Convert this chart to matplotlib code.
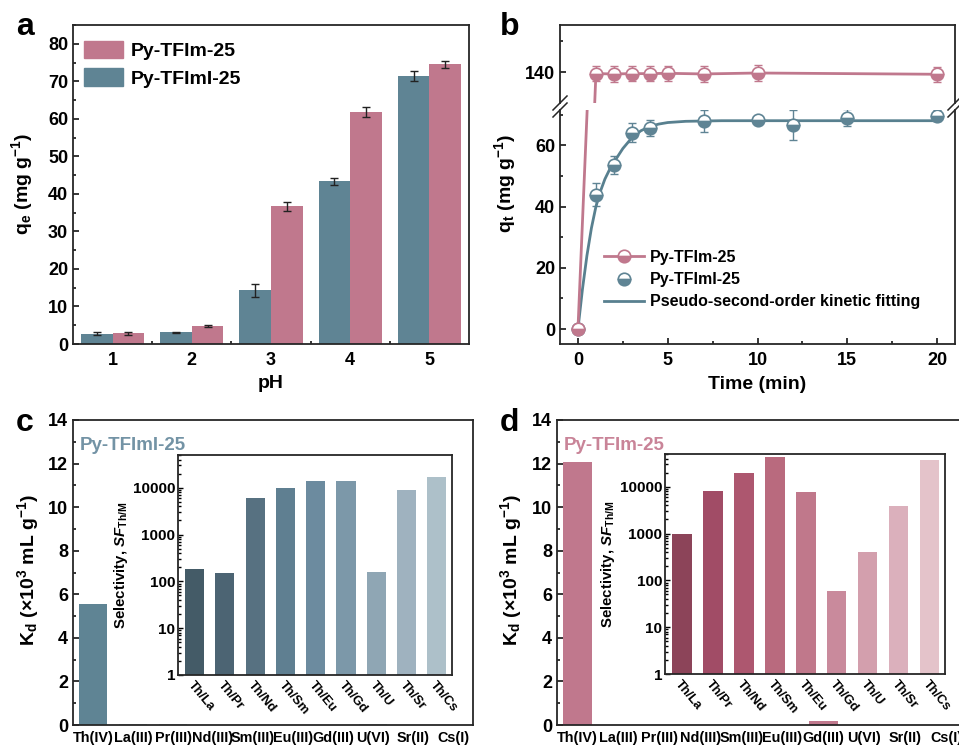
import numpy as np
import matplotlib
matplotlib.use('Agg')
import matplotlib.pyplot as plt
from matplotlib.lines import Line2D
from matplotlib.patches import Patch
from matplotlib.ticker import MultipleLocator, FixedLocator, LogLocator, NullFormatter

plt.rcParams['font.family'] = ['Liberation Sans', 'DejaVu Sans']
plt.rcParams['font.weight'] = 'bold'
plt.rcParams['axes.labelweight'] = 'bold'
plt.rcParams['mathtext.fontset'] = 'custom'
plt.rcParams['mathtext.rm'] = 'Liberation Sans:bold'
plt.rcParams['mathtext.it'] = 'Liberation Sans:italic:bold'
plt.rcParams['mathtext.bf'] = 'Liberation Sans:bold'
plt.rcParams['mathtext.default'] = 'rm'
plt.rcParams['axes.linewidth'] = 1.3
plt.rcParams['axes.edgecolor'] = '#262626'

# ---------------- data ----------------
ph = [1, 2, 3, 4, 5]
qe_tfim = [2.8, 4.8, 36.7, 61.8, 74.5]
qe_tfim_err = [0.3, 0.2, 1.2, 1.4, 1.0]
qe_tfimi = [2.7, 3.1, 14.3, 43.3, 71.4]
qe_tfimi_err = [0.4, 0.2, 1.8, 1.0, 1.3]

t_tfim = [0, 1, 2, 3, 4, 5, 7, 10, 20]
qt_tfim = [0, 139.6, 139.5, 139.6, 139.6, 139.7, 139.5, 139.8, 139.4]
qt_tfim_err = [0, 2.4, 2.4, 2.4, 2.4, 2.4, 2.4, 2.4, 2.4]

t_tfimi = [0, 1, 2, 3, 4, 7, 10, 12, 15, 20]
qt_tfimi = [0, 43.9, 53.6, 64.2, 65.7, 68.0, 68.4, 66.7, 69.1, 69.7]
qt_tfimi_err = [0, 3.8, 3.0, 3.0, 2.7, 3.5, 1.2, 4.8, 2.7, 1.8]

fit_t = [0, 0.25, 0.5, 0.75, 1, 1.25, 1.5, 1.75, 2, 2.5, 3, 3.5, 4, 4.5, 5, 6, 7, 8, 10, 15, 20]
fit_q = [0, 13, 24, 33, 40, 45, 49, 52, 54.5, 59, 62.5, 64.8, 66.2, 67, 67.5, 67.9, 68.0, 68.1, 68.1, 68.1, 68.1]

ions = ['Th(IV)', 'La(III)', 'Pr(III)', 'Nd(III)', 'Sm(III)', 'Eu(III)', 'Gd(III)', 'U(VI)', 'Sr(II)', 'Cs(I)']
kd_tfimi = [5.55, 0.03, 0.037, 0.0009, 0.0006, 0.0004, 0.0004, 0.037, 0.0006, 0.0003]
kd_tfim = [12.05, 0.012, 0.0015, 0.0006, 0.0003, 0.0016, 0.2, 0.03, 0.003, 0.0003]

pairs = ['Th/La', 'Th/Pr', 'Th/Nd', 'Th/Sm', 'Th/Eu', 'Th/Gd', 'Th/U', 'Th/Sr', 'Th/Cs']
sf_tfimi = [184, 153, 5970, 10000, 14000, 14000, 156, 8970, 17300]
sf_tfim = [1000, 7930, 19300, 43800, 7550, 60, 400, 3890, 37800]

# ---------------- style ----------------
TEAL = '#5F8494'
PINK = '#C0788D'
teal_grad = ['#445B67', '#4C6473', '#577181', '#5F7F91', '#6C8B9F', '#7C98A9', '#8FA6B4', '#9FB2BF', '#ADC0C9']
pink_grad = ['#8C4459', '#A14C66', '#AD576F', '#B96A7E', '#C0788B', '#C98A9C', '#D39FAD', '#DBB0BC', '#E4C3CA']

W, H = 959, 748
fig = plt.figure(figsize=(W / 100, H / 100), dpi=100)


def px(l, t, r, b):
    return [l / W, 1 - b / H, (r - l) / W, (b - t) / H]


def style_ax(ax, labelsize=12):
    ax.tick_params(which='both', direction='in', top=False, right=False, labelsize=labelsize, width=1.1)
    ax.tick_params(which='major', length=4)
    ax.tick_params(which='minor', length=2.5)


# ---------------- panel a ----------------
axa = fig.add_axes(px(73, 25, 469, 344))
x = np.array(ph)
axa.bar(x - 0.2, qe_tfimi, width=0.4, color=TEAL, yerr=qe_tfimi_err,
        error_kw=dict(ecolor='#222222', elinewidth=1, capsize=3, capthick=1))
axa.bar(x + 0.2, qe_tfim, width=0.4, color=PINK, yerr=qe_tfim_err,
        error_kw=dict(ecolor='#222222', elinewidth=1, capsize=3, capthick=1))
axa.set_xlim(0.5, 5.5)
axa.set_ylim(0, 85)
axa.set_xticks(ph)
axa.xaxis.set_minor_locator(FixedLocator([1.5, 2.5, 3.5, 4.5]))
axa.yaxis.set_major_locator(MultipleLocator(10))
axa.yaxis.set_minor_locator(MultipleLocator(5))
style_ax(axa, 13)
axa.tick_params(axis='x', which='major', length=0, pad=6)
axa.set_xlabel('pH', fontsize=14, labelpad=4)
fig.text(22 / W, 1 - 184 / H, r'q$_e$ (mg g$^{-1}$)', rotation=90, ha='center', va='center', fontsize=14, weight='bold')
axa.legend(handles=[Patch(color=PINK, label='Py-TFIm-25'), Patch(color=TEAL, label='Py-TFImI-25')],
           loc='upper left', bbox_to_anchor=(84 / W, 1 - 41 / H), bbox_transform=fig.transFigure,
           frameon=False, fontsize=14, handlelength=2.0, handleheight=1.0, handletextpad=0.4,
           labelspacing=0.4, borderpad=0, borderaxespad=0)

# ---------------- panel b ----------------
axbu = fig.add_axes(px(560, 25, 955, 103))
axbl = fig.add_axes(px(560, 110, 955, 344))
mk = dict(marker='o', markersize=9, fillstyle='bottom', markerfacecoloralt='white', markeredgewidth=1.2)
for ax in (axbu, axbl):
    ax.errorbar(t_tfimi, qt_tfimi, yerr=qt_tfimi_err, fmt='none', ecolor=TEAL, elinewidth=1, capsize=3, zorder=2)
    ax.plot(fit_t, fit_q, color='#58808F', lw=2, zorder=3)
    ax.plot(t_tfimi, qt_tfimi, linestyle='none', color=TEAL, markerfacecolor=TEAL, markeredgecolor=TEAL, zorder=4, **mk)
    ax.errorbar(t_tfim, qt_tfim, yerr=qt_tfim_err, fmt='none', ecolor=PINK, elinewidth=1, capsize=3, zorder=5)
    ax.plot(t_tfim, qt_tfim, color=PINK, lw=2, markerfacecolor=PINK, markeredgecolor=PINK, zorder=6, **mk)
    ax.set_xlim(-1, 21)
    style_ax(ax, 13)
axbu.set_ylim(130.3, 155)
axbl.set_ylim(-4.9, 71.6)
axbu.spines['bottom'].set_visible(False)
axbl.spines['top'].set_visible(False)
axbu.tick_params(axis='x', which='both', bottom=False, labelbottom=False)
axbu.set_yticks([140])
axbu.yaxis.set_minor_locator(FixedLocator([150]))
axbl.yaxis.set_major_locator(FixedLocator([0, 20, 40, 60]))
axbl.yaxis.set_minor_locator(FixedLocator([10, 30, 50, 70]))
axbl.xaxis.set_major_locator(MultipleLocator(5))
axbl.xaxis.set_minor_locator(MultipleLocator(2.5))
axbl.tick_params(axis='x', pad=6)
axbl.set_xlabel('Time (min)', fontsize=14, labelpad=5)
fig.text(505 / W, 1 - 183 / H, r'q$_t$ (mg g$^{-1}$)', rotation=90, ha='center', va='center', fontsize=14, weight='bold')
for xs in (560, 955):
    for dy in (-3.5, 3.5):
        y0 = 106.5 + dy
        fig.add_artist(Line2D([(xs - 7) / W, (xs + 7) / W], [1 - (y0 + 7) / H, 1 - (y0 - 7) / H],
                              color='#262626', lw=1.1, transform=fig.transFigure))
hb = [Line2D([], [], color=PINK, lw=2, markerfacecolor=PINK, markeredgecolor=PINK, **mk),
      Line2D([], [], linestyle='none', color=TEAL, markerfacecolor=TEAL, markeredgecolor=TEAL, **mk),
      Line2D([], [], color='#58808F', lw=2)]
axbl.legend(handles=hb, labels=['Py-TFIm-25', 'Py-TFImI-25', 'Pseudo-second-order kinetic fitting'],
            loc='upper left', bbox_to_anchor=(604 / W, 1 - 250 / H), bbox_transform=fig.transFigure,
            frameon=False, fontsize=11.5, handlelength=2.5, handletextpad=0.35, labelspacing=0.45,
            borderpad=0, borderaxespad=0)


# ---------------- panels c, d ----------------
def kd_panel(rect, kd, main_colors, inset_rect, sf, grad, name, name_color, ylab_x):
    ax = fig.add_axes(rect)
    ax.bar(range(len(ions)), kd, width=0.72, color=main_colors)
    ax.set_xlim(-0.5, 9.5)
    ax.set_ylim(0, 14)
    ax.set_xticks(range(len(ions)))
    ax.set_xticklabels(ions)
    ax.yaxis.set_major_locator(MultipleLocator(2))
    ax.yaxis.set_minor_locator(MultipleLocator(1))
    style_ax(ax, 13)
    ax.tick_params(axis='x', which='both', length=0, labelsize=10.4, pad=4)
    fig.text(ylab_x / W, 1 - 570 / H, r'K$_d$ (×10$^3$ mL g$^{-1}$)', rotation=90, ha='center', va='center',
             fontsize=14, weight='bold')
    ax.text(0.018, 0.915, name, transform=ax.transAxes, color=name_color, fontsize=13.5, weight='bold',
            ha='left', va='center')
    ins = fig.add_axes(inset_rect)
    ins.bar(range(len(pairs)), sf, width=0.63, color=grad)
    ins.set_yscale('log')
    ins.set_ylim(1, 5e4)
    ins.set_xlim(-0.55, 8.5)
    ins.set_yticks([1, 10, 100, 1000, 10000])
    ins.set_yticklabels(['1', '10', '100', '1000', '10000'])
    ins.yaxis.set_minor_locator(LogLocator(base=10, subs=np.arange(2, 10), numticks=20))
    ins.yaxis.set_minor_formatter(NullFormatter())
    ins.set_xticks(range(len(pairs)))
    ins.set_xticklabels(pairs, rotation=-50, ha='left', va='top', rotation_mode='anchor', fontsize=9.3)
    ins.tick_params(which='both', direction='in', top=False, right=False, width=1)
    ins.tick_params(axis='y', which='major', length=3.5, labelsize=11, pad=2)
    ins.tick_params(axis='y', which='minor', length=2)
    ins.tick_params(axis='x', length=0, pad=3)
    ins.set_ylabel(r'Selectivity, $\mathit{SF}_{\mathrm{Th/M}}$', fontsize=10.8, labelpad=2)
    return ax, ins


axc, insc = kd_panel(px(73, 420, 473, 725), kd_tfimi, [TEAL] + ['#B9CBD4'] * 9,
                     px(178, 455, 452, 675), sf_tfimi, teal_grad, 'Py-TFImI-25', '#7393A5', 28)
axd, insd = kd_panel(px(556.8, 420, 966.8, 725), kd_tfim, [PINK] * 7 + ['#E4C3CA'] * 3,
                     px(665, 454, 945, 674), sf_tfim, pink_grad, 'Py-TFIm-25', '#C98498', 511)

# panel letters
for letter, (lx, ly) in zip('abcd', [(16, 35), (500, 35), (16, 431), (500, 431)]):
    fig.text(lx / W, 1 - ly / H, letter, fontsize=23, weight='bold', ha='left', va='baseline')

fig.savefig('out.png', dpi=100)
